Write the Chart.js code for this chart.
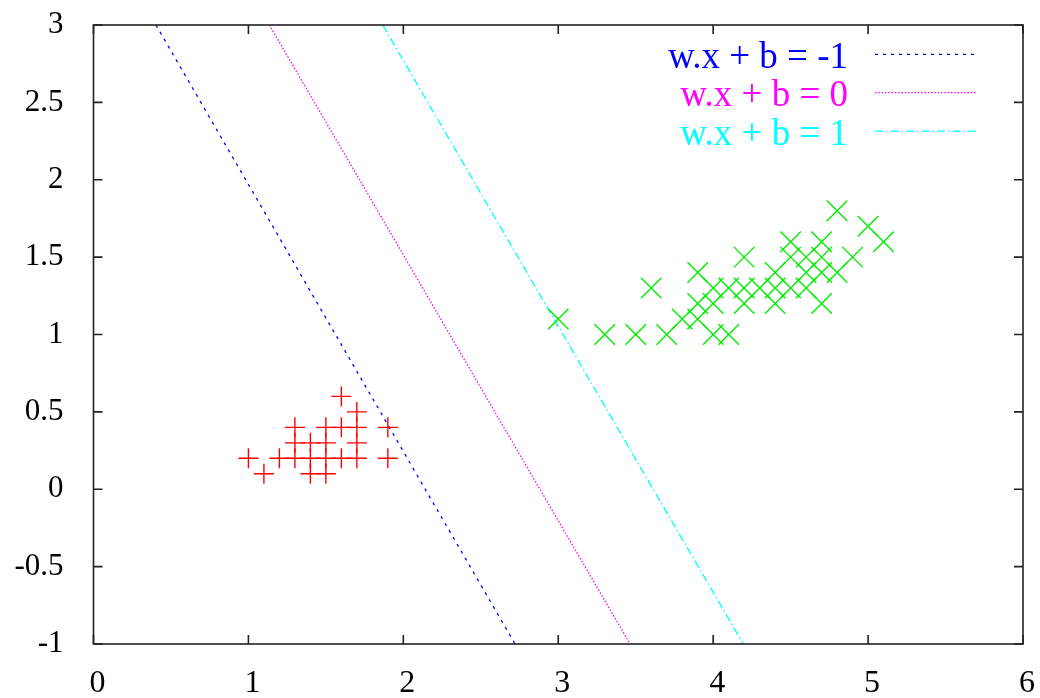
<!DOCTYPE html>
<html lang="en">

<head>
    <meta charset="UTF-8">
    <title>SVM margins</title>
    <script src="https://cdn.jsdelivr.net/npm/chart.js"></script>
    <style>
        html, body { margin: 0; padding: 0; background: #fff; }
        #wrap { width: 1040px; height: 698px; }
    </style>
</head>

<body>
    <div id="wrap"><canvas id="myChart"></canvas></div>

<script>
    // class 1 (red +) and class 2 (green x)
    const redX = [1.6, 1.7, 1.3, 1.5, 1.6, 1.7, 1.9, 1.3, 1.4, 1.5, 1.7, 1.0, 1.2, 1.3, 1.4, 1.5, 1.6, 1.7, 1.9, 1.1, 1.4, 1.5];
    const redY = [0.6, 0.5, 0.4, 0.4, 0.4, 0.4, 0.4, 0.3, 0.3, 0.3, 0.3, 0.2, 0.2, 0.2, 0.2, 0.2, 0.2, 0.2, 0.2, 0.1, 0.1, 0.1];

    const greenX = [3.3, 3.5, 3.7, 4.0, 4.1, 3.0, 3.8, 3.9, 3.9, 4.0, 4.2, 4.4, 4.7, 3.6, 4.0, 4.1, 4.2, 4.3, 4.4, 4.5, 4.6, 3.9, 4.4, 4.6, 4.7, 4.8, 4.2, 4.5, 4.6, 4.7, 4.9, 4.5, 4.7, 5.1, 5.0, 4.8];
    const greenY = [1.0, 1.0, 1.0, 1.0, 1.0, 1.1, 1.1, 1.1, 1.2, 1.2, 1.2, 1.2, 1.2, 1.3, 1.3, 1.3, 1.3, 1.3, 1.3, 1.3, 1.3, 1.4, 1.4, 1.4, 1.4, 1.4, 1.5, 1.5, 1.5, 1.5, 1.5, 1.6, 1.6, 1.6, 1.7, 1.8];

    // the three lines, given by where they cross the top (y=3) and bottom (y=-1)
    const lineLabels = ['w.x + b = -1', 'w.x + b = 0', 'w.x + b = 1'];
    const lineTopX = [0.403, 1.135, 1.867];
    const lineBottomX = [2.721, 3.464, 4.195];
    const lineColors = ['#0000ff', '#ff00ff', '#00ffff'];
    const lineDashes = [[3, 5], [1.5, 1.8], [8, 3, 1.5, 3]];

    const xTicks = [0, 1, 2, 3, 4, 5, 6];
    const yTicks = [-1, -0.5, 0, 0.5, 1, 1.5, 2, 2.5, 3];

    const fonte = 'Liberation Serif';

    function pontos(xs, ys) {
        return xs.map((v, i) => ({ x: v, y: ys[i] }));
    }

    let dados = { datasets: [] };

    dados.datasets.push({
        label: 'classe1',
        data: pontos(redX, redY),
        pointStyle: 'cross',
        pointRadius: 10,
        pointBorderColor: '#ff0000',
        pointBorderWidth: 1.4,
        showLine: false
    });
    dados.datasets.push({
        label: 'classe2',
        data: pontos(greenX, greenY),
        pointStyle: 'crossRot',
        pointRadius: 14.5,
        pointBorderColor: '#00ee00',
        pointBorderWidth: 1.4,
        showLine: false
    });

    for (let i = 0; i < lineLabels.length; i++) {
        dados.datasets.push({
            label: lineLabels[i],
            data: [{ x: lineTopX[i], y: 3 }, { x: lineBottomX[i], y: -1 }],
            borderColor: lineColors[i],
            borderWidth: 1.3,
            borderDash: lineDashes[i],
            pointRadius: 0,
            showLine: true,
            fill: false
        });
    }

    // frame with inward ticks on all four sides + gnuplot style key
    const moldura = {
        id: 'moldura',
        afterDatasetsDraw(chart) {
            const ctx = chart.ctx;
            const a = chart.chartArea;
            const sx = chart.scales.x;
            const sy = chart.scales.y;
            const t = 9;

            ctx.save();
            ctx.strokeStyle = '#222';
            ctx.lineWidth = 1.6;
            ctx.setLineDash([]);
            ctx.beginPath();
            sx.ticks.forEach(tk => {
                const px = sx.getPixelForValue(tk.value);
                ctx.moveTo(px, a.bottom); ctx.lineTo(px, a.bottom - t);
                ctx.moveTo(px, a.top); ctx.lineTo(px, a.top + t);
            });
            sy.ticks.forEach(tk => {
                const py = sy.getPixelForValue(tk.value);
                ctx.moveTo(a.left, py); ctx.lineTo(a.left + t, py);
                ctx.moveTo(a.right, py); ctx.lineTo(a.right - t, py);
            });
            ctx.stroke();
            ctx.strokeRect(a.left, a.top, a.right - a.left, a.bottom - a.top);

            // key
            ctx.font = '37px "' + fonte + '"';
            ctx.textAlign = 'right';
            ctx.textBaseline = 'alphabetic';
            const lines = chart.data.datasets.slice(2);
            lines.forEach((ds, i) => {
                const yy = a.top + 29.3 + i * 38.4;
                ctx.fillStyle = ds.borderColor;
                ctx.fillText(ds.label, a.right - 175, yy + 13.5);
                ctx.strokeStyle = ds.borderColor;
                ctx.lineWidth = 1.3;
                ctx.setLineDash(ds.borderDash);
                ctx.beginPath();
                ctx.moveTo(a.right - 148, yy);
                ctx.lineTo(a.right - 46, yy);
                ctx.stroke();
            });
            ctx.restore();
        }
    };

    const config = {
        type: 'scatter',
        data: dados,
        options: {
            responsive: true,
            maintainAspectRatio: false,
            animation: false,
            layout: { padding: { top: 25, right: 17, left: 0, bottom: 0 } },
            plugins: {
                legend: { display: false },
                tooltip: { enabled: false }
            },
            scales: {
                x: {
                    type: 'linear',
                    min: 0,
                    max: 6,
                    afterBuildTicks: s => { s.ticks = xTicks.map(v => ({ value: v })); },
                    afterFit: s => {
                        s.height = 54;
                        s.paddingLeft = 0;
                        s.paddingRight = 0;
                    },
                    grid: { display: false },
                    border: { display: false },
                    ticks: {
                        color: '#000',
                        font: { family: fonte, size: 32 },
                        padding: 12,
                        labelOffset: 4,
                        maxRotation: 0,
                        callback: v => String(v)
                    }
                },
                y: {
                    type: 'linear',
                    min: -1,
                    max: 3,
                    afterBuildTicks: s => { s.ticks = yTicks.map(v => ({ value: v })); },
                    afterFit: s => {
                        s.width = 93.5;
                        s.paddingTop = 0;
                        s.paddingBottom = 0;
                    },
                    grid: { display: false },
                    border: { display: false },
                    ticks: {
                        color: '#000',
                        font: { family: fonte, size: 31 },
                        padding: 22,
                        callback: v => String(v)
                    }
                }
            }
        },
        plugins: [moldura]
    };

    let myChart = new Chart(document.getElementById('myChart'), config);
</script>

</body>

</html>
